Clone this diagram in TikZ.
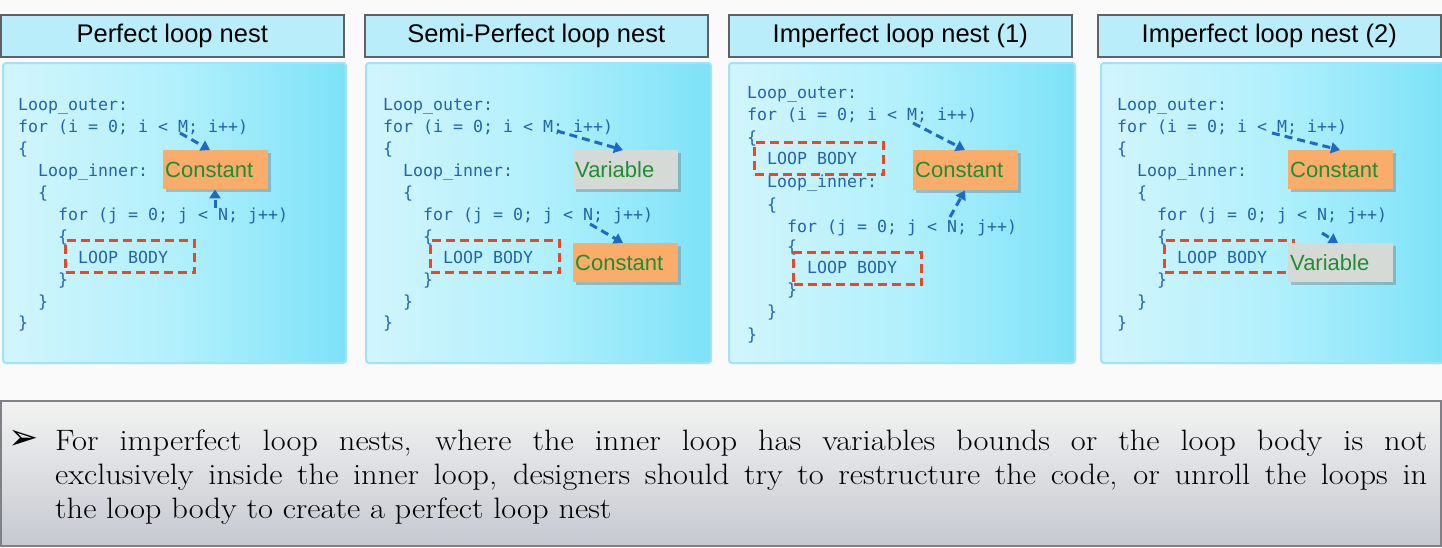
\documentclass[tikz,border=0pt]{standalone}
\usepackage{fontspec}
\newfontfamily\codefont{DejaVu Sans Mono}
\newfontfamily\headfont{Liberation Sans}
\newfontfamily\symfont{DejaVu Sans}
\newfontfamily\notefont[FakeStretch=1.1]{Latin Modern Roman}
\usetikzlibrary{shadows,arrows.meta}
\definecolor{codeblue}{RGB}{35,100,170}
\definecolor{arrblue}{RGB}{30,105,195}
\definecolor{loopred}{RGB}{232,72,38}
\definecolor{constfill}{RGB}{250,172,106}
\definecolor{varfill}{RGB}{214,218,214}
\definecolor{labgreen}{RGB}{34,140,52}
\definecolor{titlefill}{RGB}{186,237,250}
\definecolor{titledraw}{RGB}{95,97,102}
\definecolor{bodyleft}{RGB}{210,245,252}
\definecolor{bodymid}{RGB}{178,240,252}
\definecolor{bodyright}{RGB}{125,226,248}
\definecolor{bodydraw}{RGB}{160,226,246}
\definecolor{notetop}{RGB}{243,243,243}
\definecolor{notebot}{RGB}{198,201,208}
\definecolor{notedraw}{RGB}{128,128,134}
\tikzset{
  titlebox/.style={draw=titledraw, line width=1.5pt, fill=titlefill, anchor=north west,
    minimum width=343pt, minimum height=42pt, inner sep=0pt,
    font=\headfont\fontsize{25.5}{30}\selectfont, text=black},
  bodybox/.style={draw=bodydraw, line width=2pt, rounded corners=3pt, anchor=north west,
    minimum width=343pt, minimum height=300pt, inner sep=0pt,
    left color=bodyleft, right color=bodyright, middle color=bodymid},
  code/.style={anchor=base west, inner sep=0pt, text=codeblue,
    font=\codefont\fontsize{16.6}{20}\selectfont},
  loopbox/.style={draw=loopred, line width=3pt, dash pattern=on 9pt off 5pt,
    anchor=north west, minimum width=129pt, minimum height=32pt, inner sep=0pt},
  labbox/.style={anchor=north west, minimum height=39pt, text width=101pt,
    inner xsep=2pt, inner ysep=0pt, align=left, text=labgreen,
    font=\headfont\fontsize{22}{26}\selectfont,
    drop shadow={shadow xshift=3pt, shadow yshift=-3pt, opacity=0.35, fill=black!60}},
  constbox/.style={labbox, fill=constfill},
  varbox/.style={labbox, fill=varfill},
  darr/.style={draw=arrblue, line width=3pt, dash pattern=on 8pt off 5pt,
    -{Triangle[width=11pt,length=9pt]}},
  notetext/.style={anchor=base west, inner sep=0pt, font=\notefont\fontsize{29.5}{34}\selectfont}
}
\newcommand\stdcode[2]{%
  \node[code] (#2a) at (#1,110) {Loop\_outer:};
  \node[code] (#2b) at (#1,132) {for (i = 0; i < M; i++)};
  \node[code] (#2c) at (#1,154) {\{};
  \node[code] (#2d) at (#1+20,176) {Loop\_inner:};
  \node[code] (#2e) at (#1+20,198) {\{};
  \node[code] (#2f) at (#1+40,220) {for (j = 0; j < N; j++)};
  \node[code] (#2g) at (#1+40,242) {\{};
  \node[code] (#2h) at (#1+60,263) {LOOP BODY};
  \node[code] (#2i) at (#1+40,285) {\}};
  \node[code] (#2j) at (#1+20,307) {\}};
  \node[code] (#2k) at (#1,328) {\}};
  \node[loopbox] (#2r) at (#1+46,239) {};
}
\begin{document}
\begin{tikzpicture}[x=1pt,y=-1pt]
\useasboundingbox[fill=white!98!black] (0,0) rectangle (1442,547);
% titles
\node[titlebox] (t1) at (0,14) {Perfect loop nest};
\node[titlebox] (t2) at (364,14) {Semi-Perfect loop nest};
\node[titlebox] (t3) at (728,14) {Imperfect loop nest (1)};
\node[titlebox] (t4) at (1097,14) {Imperfect loop nest (2)};
% bodies
\node[bodybox] (b1) at (2,62) {};
\node[bodybox, minimum width=345pt] (b2) at (365,62) {};
\node[bodybox, minimum width=346pt] (b3) at (728,62) {};
\node[bodybox] (b4) at (1100,62) {};
% panel 1
\stdcode{18}{p}
\node[constbox] (c1) at (163,150) {Constant};
\coordinate (m1) at (180,133);
\coordinate (n1) at (215,208);
\draw[darr] (m1) -- ([xshift=47pt]c1.north west);
\draw[darr] (n1) -- ([xshift=52pt]c1.south west);
% panel 2
\stdcode{383}{q}
\node[varbox] (v2) at (573,150) {Variable};
\node[constbox] (c2) at (573,243) {Constant};
\coordinate (m2) at (557,131);
\coordinate (n2) at (590,224);
\draw[darr] (m2) -- ([xshift=50pt]v2.north west);
\draw[darr] (n2) -- ([xshift=50pt]c2.north west);
% panel 3
\node[code] (s1) at (747,98) {Loop\_outer:};
\node[code] (s2) at (747,120) {for (i = 0; i < M; i++)};
\node[code] (s3) at (747,143) {\{};
\node[code] (s4) at (767,164) {LOOP BODY};
\node[code] (s5) at (767,187) {Loop\_inner:};
\node[code] (s6) at (767,210) {\{};
\node[code] (s7) at (787,232) {for (j = 0; j < N; j++)};
\node[code] (s8) at (787,252) {\{};
\node[code] (s9) at (807,273) {LOOP BODY};
\node[code] (s10) at (787,295) {\}};
\node[code] (s11) at (767,317) {\}};
\node[code] (s12) at (747,340) {\}};
\node[loopbox] (sr1) at (753,141) {};
\node[loopbox, minimum width=128pt] (sr2) at (792,251) {};
\node[constbox, minimum height=40pt] (c3) at (913,150) {Constant};
\coordinate (m3) at (913,123);
\coordinate (n3) at (950,217);
\draw[darr] (m3) -- ([xshift=52pt]c3.north west);
\draw[darr] (n3) -- ([xshift=52pt]c3.south west);
% panel 4
\stdcode{1117}{u}
\node[constbox] (c4) at (1288,150) {Constant};
\node[varbox] (v4) at (1288,243) {Variable};
\coordinate (m4) at (1272,133);
\coordinate (n4) at (1322,233);
\draw[darr] (m4) -- ([xshift=52pt]c4.north west);
\draw[darr] (n4) -- ([xshift=50pt]v4.north west);
% note
\node[draw=notedraw, line width=1.5pt, anchor=north west, minimum width=1440pt,
  minimum height=145pt, inner sep=0pt, top color=notetop, bottom color=notebot] (note) at (0,400) {};
\node[anchor=center, inner sep=0pt, font=\symfont\fontsize{36}{40}\selectfont] (bul) at (24,440) {➢};
\node[notetext] (l1) at (55,450) {\makebox[1372pt][s]{For imperfect loop nests, where the inner loop has variables bounds or the loop body is not}};
\node[notetext] (l2) at (55,484) {\makebox[1372pt][s]{exclusively inside the inner loop, designers should try to restructure the code, or unroll the loops in}};
\node[notetext] (l3) at (55,518) {the loop body to create a perfect loop nest};
\end{tikzpicture}
\end{document}
